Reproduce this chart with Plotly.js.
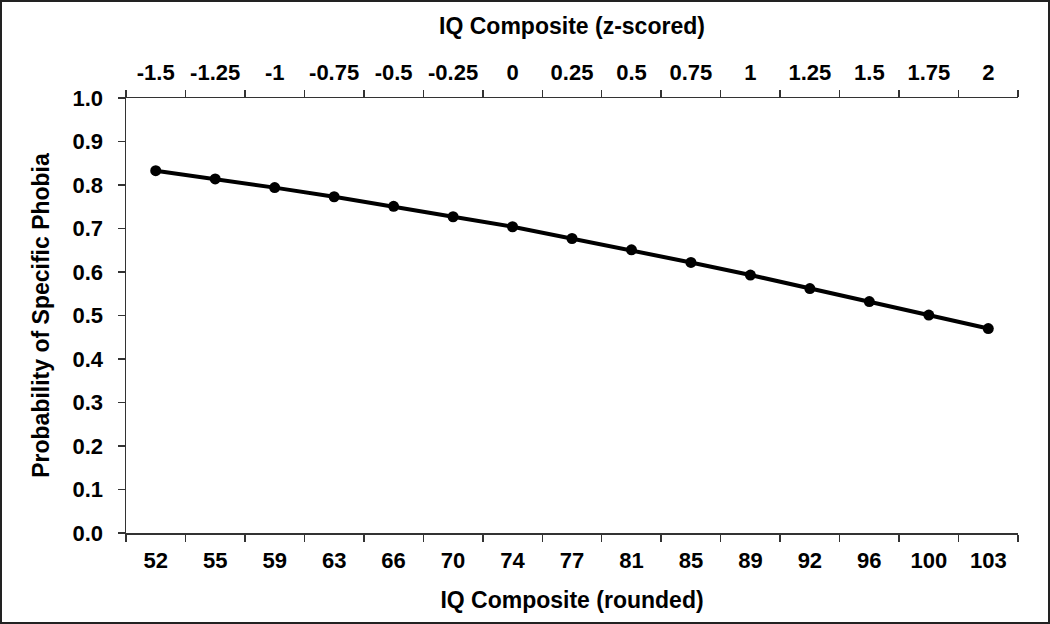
<!DOCTYPE html>
<html>
<head>
<meta charset="utf-8">
<script src="https://cdn.plot.ly/plotly-3.0.1.min.js"></script>
<style>
  html, body { margin: 0; padding: 0; background: #fff; }
  #frame { position: absolute; left: 0; top: 0; width: 1050px; height: 624px; box-sizing: border-box; border: 2px solid #222; }
  #chart { position: absolute; left: 0; top: 0; width: 1050px; height: 624px; }
</style>
</head>
<body>
<div id="chart"></div>
<div id="frame"></div>
<script>
const iqRounded = ["52", "55", "59", "63", "66", "70", "74", "77", "81", "85", "89", "92", "96", "100", "103"];
const iqZ = ["-1.5", "-1.25", "-1", "-0.75", "-0.5", "-0.25", "0", "0.25", "0.5", "0.75", "1", "1.25", "1.5", "1.75", "2"];
const probability = [0.833, 0.814, 0.794, 0.773, 0.751, 0.727, 0.704, 0.677, 0.651, 0.622, 0.593, 0.562, 0.532, 0.501, 0.470];

const fontFamily = '"Liberation Sans", Arial, sans-serif';
const tickFont = { family: fontFamily, size: 22, color: '#000', weight: 'bold' };
const titleFont = { family: fontFamily, size: 23, color: '#000', weight: 'bold' };

const traces = [
  {
    x: iqRounded,
    y: probability,
    type: 'scatter',
    mode: 'lines+markers',
    line: { color: '#000', width: 4 },
    marker: { color: '#000', size: 11 },
    xaxis: 'x',
    yaxis: 'y',
    showlegend: false,
    hoverinfo: 'x+y'
  },
  {
    x: iqZ,
    y: probability,
    type: 'scatter',
    mode: 'markers',
    marker: { color: 'rgba(0,0,0,0)', size: 1 },
    xaxis: 'x2',
    yaxis: 'y',
    showlegend: false,
    hoverinfo: 'skip'
  }
];

const axisCommon = {
  type: 'category',
  tickson: 'boundaries',
  ticks: 'outside',
  ticklen: 7,
  tickwidth: 1.5,
  tickcolor: '#333',
  showline: true,
  linecolor: '#333',
  linewidth: 1.5,
  showgrid: false,
  zeroline: false,
  tickfont: tickFont,
  tickangle: 0,
  range: [-0.5, 14.5],
  fixedrange: true
};

const layout = {
  width: 1050,
  height: 624,
  margin: { l: 126, r: 32, t: 98, b: 91 },
  paper_bgcolor: '#fff',
  plot_bgcolor: '#fff',
  xaxis: Object.assign({}, axisCommon, {
    side: 'bottom',
    categoryorder: 'array',
    categoryarray: iqRounded,
    ticklabelstandoff: 7,
    title: { text: 'IQ Composite (rounded)', font: titleFont, standoff: 20 }
  }),
  xaxis2: Object.assign({}, axisCommon, {
    side: 'top',
    overlaying: 'x',
    anchor: 'y',
    categoryorder: 'array',
    categoryarray: iqZ,
    ticklabelstandoff: 8,
    title: { text: 'IQ Composite (z-scored)', font: titleFont, standoff: 18 }
  }),
  yaxis: {
    range: [0, 1],
    dtick: 0.1,
    tick0: 0,
    tickformat: '.1f',
    ticks: 'outside',
    ticklen: 7,
    tickwidth: 1.5,
    tickcolor: '#333',
    showline: true,
    linecolor: '#333',
    linewidth: 1.5,
    showgrid: false,
    zeroline: false,
    tickfont: tickFont,
    ticklabelstandoff: 10,
    title: { text: 'Probability of Specific Phobia', font: titleFont, standoff: 16 },
    fixedrange: true
  }
};

Plotly.newPlot('chart', traces, layout, { displayModeBar: false, staticPlot: true });
</script>
</body>
</html>
